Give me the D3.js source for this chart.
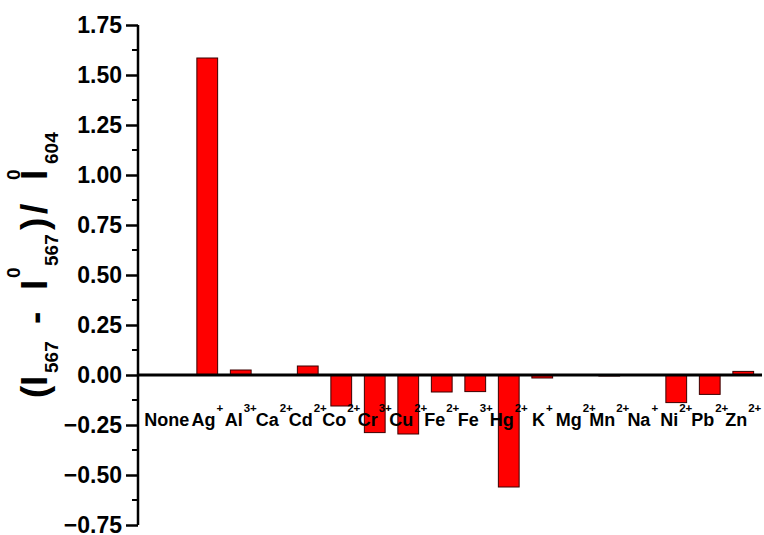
<!DOCTYPE html>
<html>
<head>
<meta charset="utf-8">
<script src="https://cdn.jsdelivr.net/npm/d3@7"></script>
<style>
  html, body { margin: 0; padding: 0; background: #fff; }
  svg { display: block; font-family: "Liberation Sans", Arial, sans-serif; }
</style>
</head>
<body>
<svg id="chart" width="764" height="535"></svg>
<script>
// Metal ions tested (symbol + charge) and the ratiometric response of each
const ions    = ["None", "Ag", "Al", "Ca", "Cd", "Co", "Cr", "Cu", "Fe", "Fe", "Hg", "K", "Mg", "Mn", "Na", "Ni", "Pb", "Zn"];
const charges = ["", "+", "3+", "2+", "2+", "2+", "3+", "2+", "2+", "3+", "2+", "+", "2+", "2+", "+", "2+", "2+", "2+"];
const response = [0, 1.585, 0.025, 0, 0.045, -0.155, -0.288, -0.295, -0.085, -0.083, -0.56, -0.015, 0, -0.005, 0, -0.138, -0.097, 0.018];
const yTicks = [-0.75, -0.50, -0.25, 0.00, 0.25, 0.50, 0.75, 1.00, 1.25, 1.50, 1.75];

const keys = ions.map((d, i) => d + charges[i]);
const data = keys.map((k, i) => ({ key: k, ion: ions[i], charge: charges[i], value: response[i] }));

const svg = d3.select("#chart");

const x = d3.scaleBand()
  .domain(keys)
  .range([157, 760])
  .paddingInner(0.38)
  .paddingOuter(0.19);

const y = d3.scaleLinear()
  .domain([-0.75, 1.75])
  .range([525, 25]);

const axisX = 138;

// bars
svg.append("g")
  .selectAll("rect")
  .data(data.filter(d => d.value !== 0))
  .join("rect")
  .attr("x", d => x(d.key))
  .attr("width", x.bandwidth())
  .attr("y", d => y(Math.max(0, d.value)))
  .attr("height", d => Math.abs(y(d.value) - y(0)))
  .attr("fill", "#ff0000")
  .attr("stroke", "#3a0000")
  .attr("stroke-width", 1);

// zero line across the plot
svg.append("line")
  .attr("x1", axisX)
  .attr("x2", x.range()[1] + 2)
  .attr("y1", y(0))
  .attr("y2", y(0))
  .attr("stroke", "#000")
  .attr("stroke-width", 3);

// y axis with outward major ticks and minor ticks between them
const yAxis = d3.axisLeft(y)
  .tickValues(yTicks)
  .tickSize(12)
  .tickPadding(4)
  .tickFormat(d3.format(".2f"));

const gy = svg.append("g")
  .attr("transform", `translate(${axisX},0)`)
  .call(yAxis);

gy.select(".domain").attr("stroke-width", 2.5).attr("d", `M0,${y(1.75)}V${y(-0.75)}`);
gy.selectAll(".tick line").attr("stroke-width", 2.5);
gy.selectAll(".tick text")
  .attr("font-size", 23)
  .attr("font-weight", "bold")
  .attr("font-family", "Liberation Sans, Arial, sans-serif")
  .attr("fill", "#000");

const minor = yTicks.slice(0, -1).map(t => t + 0.125);
gy.append("g")
  .selectAll("line")
  .data(minor)
  .join("line")
  .attr("x1", -6)
  .attr("x2", 0)
  .attr("y1", d => y(d))
  .attr("y2", d => y(d))
  .attr("stroke", "#000")
  .attr("stroke-width", 2);

// category labels with superscript charges, drawn over the bars
const lab = svg.append("g")
  .selectAll("text")
  .data(data)
  .join("text")
  .attr("x", d => x(d.key) + x.bandwidth() / 2)
  .attr("dx", d => d.charge === "" ? -7 : 0)
  .attr("y", 426)
  .attr("text-anchor", "middle")
  .attr("font-weight", "bold")
  .attr("font-size", 18)
  .attr("fill", "#000");
lab.append("tspan").text(d => d.ion);
lab.filter(d => d.charge !== "")
  .append("tspan")
  .attr("font-size", 11.5)
  .attr("dy", -14)
  .attr("dx", 1)
  .text(d => d.charge);

// y axis title: (I567 - I0567)/ I0604, rotated
const title = svg.append("g")
  .attr("transform", "translate(47,400) rotate(-90)")
  .attr("font-weight", "bold")
  .attr("fill", "#000");

const titleParts = [
  { t: "(",   at: 2,   size: 37, shift: 0 },
  { t: "I",   at: 14,  size: 37, shift: 0 },
  { t: "567", at: 27,  size: 19, shift: 11 },
  { t: "-",   at: 76,  size: 37, shift: 0 },
  { t: "I",   at: 110, size: 37, shift: 0 },
  { t: "0",   at: 122, size: 19, shift: -27 },
  { t: "567", at: 134, size: 19, shift: 11 },
  { t: ")",   at: 170, size: 37, shift: 0 },
  { t: "/",   at: 186, size: 37, shift: 0 },
  { t: "I",   at: 220, size: 37, shift: 0 },
  { t: "0",   at: 220, size: 19, shift: -27 },
  { t: "604", at: 236, size: 19, shift: 11 }
];

title.selectAll("text")
  .data(titleParts)
  .join("text")
  .attr("x", d => d.at)
  .attr("y", d => d.shift)
  .attr("font-size", d => d.size)
  .text(d => d.t);
</script>
</body>
</html>
